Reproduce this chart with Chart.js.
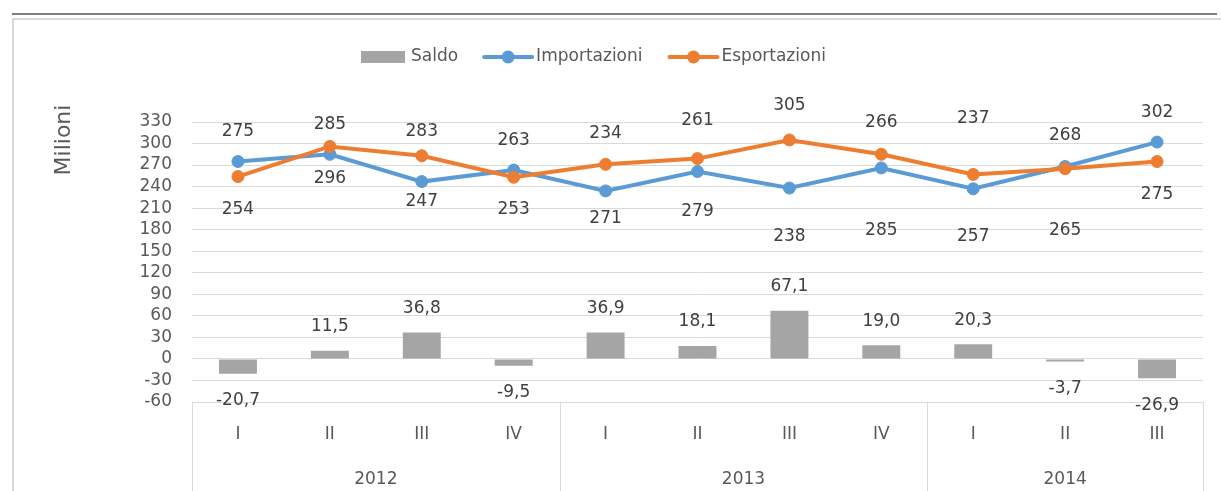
<!DOCTYPE html>
<html><head><meta charset="utf-8">
<script src="https://cdn.jsdelivr.net/npm/chart.js@4.4.1/dist/chart.umd.min.js"></script>
<style>html,body{margin:0;padding:0;background:#fff;} #wrap{width:1221px;height:491px;position:relative;}</style>
</head><body><div id="wrap"><canvas id="c" width="1221" height="491"></canvas></div>
<script>
// ---- data ----
const quarters = ['I','II','III','IV','I','II','III','IV','I','II','III'];
const years = ['2012','2012','2012','2012','2013','2013','2013','2013','2014','2014','2014'];
const saldo = [-20.7, 11.5, 36.8, -9.5, 36.9, 18.1, 67.1, 19.0, 20.3, -3.7, -26.9];
const importazioni = [275, 285, 247, 263, 234, 261, 238, 266, 237, 268, 302];
const esportazioni = [254, 296, 283, 253, 271, 279, 305, 285, 257, 265, 275];
const yMin = -60, yMax = 330, yStep = 30;
const yTitle = 'Milioni';

// ---- label placement (pixel offsets from the marks, style only) ----
const importLabelDy = [-30, -30, 20, -30, -57, -51, 49, -45, -70, -31, -30];
const exportLabelDy = [33, 32, -24, 32, 54, 53, -34, 76, 62, 62, 33];

const FONT = '"DejaVu Sans", sans-serif';
const C_BLUE = '#5B9BD5', C_ORANGE = '#ED7D31', C_GRAY = '#A5A5A5';
const C_TEXT = '#595959', C_LABEL = '#404040', C_GRID = '#D9D9D9';

const fmt = v => v.toFixed(1).replace('.', ',');

const decor = {
  id: 'decor',
  beforeDraw(chart) {
    const ctx = chart.ctx;
    ctx.save();
    ctx.fillStyle = '#fff';
    ctx.fillRect(0, 0, chart.width, chart.height);
    // outer frame
    ctx.strokeStyle = C_GRID; ctx.lineWidth = 2;
    ctx.beginPath();
    ctx.moveTo(13, chart.height + 2); ctx.lineTo(13, 19); ctx.lineTo(chart.width + 2, 19);
    ctx.stroke();
    // dark top rule
    ctx.strokeStyle = '#555'; ctx.lineWidth = 1.5;
    ctx.beginPath(); ctx.moveTo(12, 14); ctx.lineTo(1217, 14); ctx.stroke();
    ctx.restore();
  },
  afterDraw(chart) {
    const ctx = chart.ctx;
    const xs = chart.scales.x, area = chart.chartArea;
    ctx.save();
    // data labels
    ctx.textAlign = 'center'; ctx.textBaseline = 'middle';
    ctx.fillStyle = C_LABEL; ctx.font = '17px ' + FONT;
    const mb = chart.getDatasetMeta(0).data;
    saldo.forEach((v, i) => {
      const el = mb[i];
      ctx.fillText(fmt(v), el.x, v >= 0 ? el.y - 24 : el.y + 27);
    });
    const mi = chart.getDatasetMeta(1).data;
    importazioni.forEach((v, i) => ctx.fillText(String(v), mi[i].x, mi[i].y + importLabelDy[i]));
    const me = chart.getDatasetMeta(2).data;
    esportazioni.forEach((v, i) => ctx.fillText(String(v), me[i].x, me[i].y + exportLabelDy[i]));

    // year groups + separators
    const half = (xs.getPixelForValue(1) - xs.getPixelForValue(0)) / 2;
    const groups = [];
    years.forEach((y, i) => {
      if (!groups.length || groups[groups.length - 1].name !== y) groups.push({name: y, s: i, e: i});
      else groups[groups.length - 1].e = i;
    });
    ctx.strokeStyle = C_GRID; ctx.lineWidth = 1;
    const bounds = [xs.getPixelForValue(0) - half];
    groups.forEach(g => bounds.push(xs.getPixelForValue(g.e) + half));
    bounds.forEach(b => {
      const bx = Math.round(b) + 0.5;
      ctx.beginPath(); ctx.moveTo(bx, area.bottom); ctx.lineTo(bx, chart.height); ctx.stroke();
    });
    ctx.fillStyle = C_TEXT; ctx.font = '17px ' + FONT;
    groups.forEach(g => {
      const cx = (xs.getPixelForValue(g.s) + xs.getPixelForValue(g.e)) / 2;
      ctx.fillText(g.name, cx, area.bottom + 78);
    });

    // y title
    ctx.save();
    ctx.translate(64, area.top + 18);
    ctx.rotate(-Math.PI / 2);
    ctx.font = '22px ' + FONT; ctx.fillStyle = C_TEXT;
    ctx.fillText(yTitle, 0, 0);
    ctx.restore();

    // legend
    ctx.font = '17px ' + FONT; ctx.textAlign = 'left'; ctx.fillStyle = C_TEXT;
    const ly = 57;
    let x = 361;
    const ds = chart.data.datasets;
    ctx.fillStyle = C_GRAY; ctx.fillRect(x, ly - 6, 44, 12);
    x += 50; ctx.fillStyle = C_TEXT; ctx.fillText(ds[0].label, x, ly);
    x += ctx.measureText(ds[0].label).width + 26;
    [ds[1], ds[2]].forEach(d => {
      ctx.strokeStyle = d.borderColor; ctx.lineWidth = 4; ctx.lineCap = 'round';
      ctx.beginPath(); ctx.moveTo(x, ly); ctx.lineTo(x + 48, ly); ctx.stroke();
      ctx.fillStyle = d.borderColor;
      ctx.beginPath(); ctx.arc(x + 24, ly, 6.5, 0, Math.PI * 2); ctx.fill();
      x += 52; ctx.fillStyle = C_TEXT; ctx.fillText(d.label, x, ly);
      x += ctx.measureText(d.label).width + 27;
    });
    ctx.restore();
  }
};

new Chart(document.getElementById('c'), {
  type: 'bar',
  data: {
    labels: quarters,
    datasets: [
      { type: 'bar', label: 'Saldo', data: saldo, backgroundColor: C_GRAY,
        barPercentage: 0.413, categoryPercentage: 1, order: 3 },
      { type: 'line', label: 'Importazioni', data: importazioni, borderColor: C_BLUE,
        backgroundColor: C_BLUE, borderWidth: 4, pointRadius: 6, pointBorderWidth: 1,
        pointBackgroundColor: C_BLUE, pointBorderColor: C_BLUE, tension: 0, order: 2 },
      { type: 'line', label: 'Esportazioni', data: esportazioni, borderColor: C_ORANGE,
        backgroundColor: C_ORANGE, borderWidth: 4, pointRadius: 6, pointBorderWidth: 1,
        pointBackgroundColor: C_ORANGE, pointBorderColor: C_ORANGE, tension: 0, order: 1 }
    ]
  },
  options: {
    responsive: false, animation: false, devicePixelRatio: 1,
    layout: { padding: { top: 122, right: 18, bottom: 0, left: 0 } },
    plugins: { legend: { display: false }, tooltip: { enabled: false } },
    scales: {
      x: {
        offset: true,
        grid: { display: false, drawTicks: false },
        border: { display: false },
        ticks: { color: C_TEXT, font: { family: FONT, size: 17 }, padding: 22, maxRotation: 0 },
        afterFit(s) { s.height = 89; }
      },
      y: {
        min: yMin, max: yMax,
        ticks: { stepSize: yStep, autoSkip: false, color: C_TEXT, font: { family: FONT, size: 17 }, padding: 20 },
        grid: { color: C_GRID, lineWidth: 1, drawTicks: false },
        border: { display: false },
        afterFit(s) { s.width = 192; }
      }
    }
  },
  plugins: [decor]
});
</script>
</body></html>
